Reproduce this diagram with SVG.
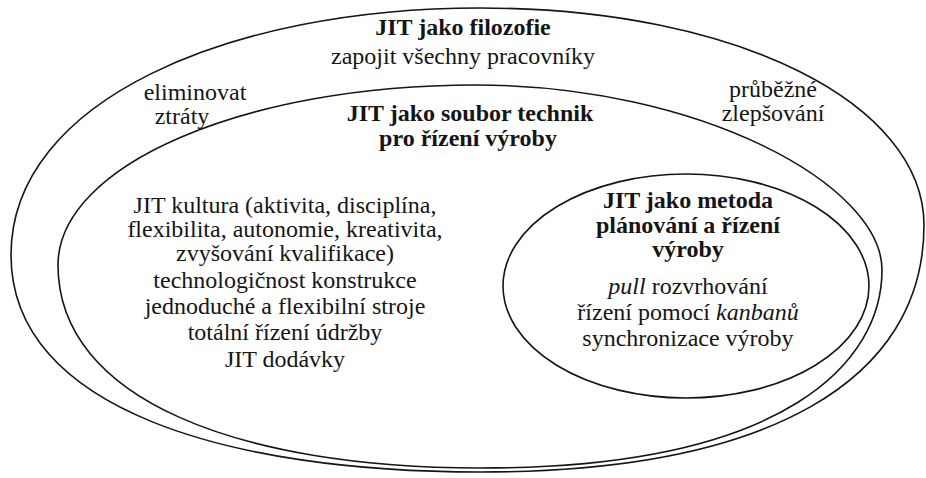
<svg xmlns="http://www.w3.org/2000/svg" width="926" height="478" viewBox="0 0 926 478">
<style>
  .shape { fill: none; stroke: #151515; stroke-width: 1.6; }
  .t { font-family: 'Liberation Serif', 'DejaVu Serif', 'Times New Roman', serif; font-size: 24px; fill: #151515; text-anchor: middle; }
  .b { font-weight: bold; }
  .i { font-style: italic; }
</style>
<rect width="926" height="478" fill="#ffffff"/>
<g id="connectors"></g>
<g id="filozofie">
  <path class="shape" d="M 11,255 C 11,100 230,8 480,8 C 740,8 924,105 924,225 C 924,380 770,472 480,472 C 230,472 11,410 11,255 Z"/>
  <text class="t b" x="463" y="35">JIT jako filozofie</text>
  <text class="t" x="463" y="64">zapojit všechny pracovníky</text>
  <text class="t" x="195" y="100">eliminovat</text>
  <text class="t" x="182" y="124">ztráty</text>
  <text class="t" x="773" y="97">průběžné</text>
  <text class="t" x="773" y="121">zlepšování</text>
</g>
<g id="techniky">
  <path class="shape" d="M 58,265 C 58,165 245,85 475,85 C 700,85 882,185 882,270 C 882,360 790,468 480,468 C 240,468 58,400 58,265 Z"/>
  <text class="t b" x="470" y="121">JIT jako soubor technik</text>
  <text class="t b" x="468" y="146">pro řízení výroby</text>
  <text class="t" x="285" y="213">JIT kultura (aktivita, disciplína,</text>
  <text class="t" x="285" y="237">flexibilita, autonomie, kreativita,</text>
  <text class="t" x="285" y="261">zvyšování kvalifikace)</text>
  <text class="t" x="285" y="288">technologičnost konstrukce</text>
  <text class="t" x="285" y="314">jednoduché a flexibilní stroje</text>
  <text class="t" x="285" y="340">totální řízení údržby</text>
  <text class="t" x="285" y="367">JIT dodávky</text>
</g>
<g id="metoda">
  <ellipse class="shape" cx="686" cy="286" rx="183" ry="112"/>
  <text class="t b" x="688" y="208">JIT jako metoda</text>
  <text class="t b" x="688" y="233">plánování a řízení</text>
  <text class="t b" x="688" y="257">výroby</text>
  <text class="t" x="688" y="294"><tspan class="i">pull</tspan> rozvrhování</text>
  <text class="t" x="688" y="320">řízení pomocí <tspan class="i">kanbanů</tspan></text>
  <text class="t" x="688" y="346">synchronizace výroby</text>
</g>
</svg>
